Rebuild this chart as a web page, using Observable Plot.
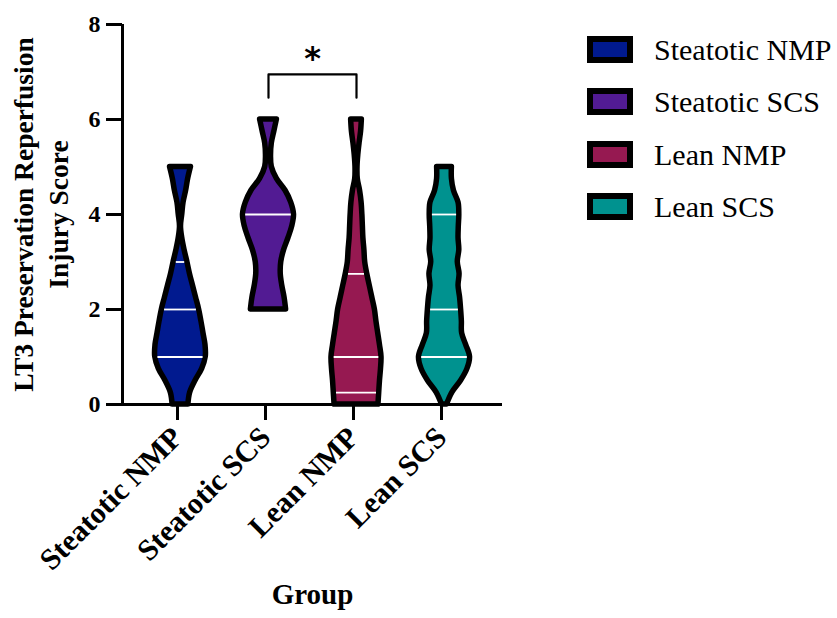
<!DOCTYPE html>
<html>
<head>
<meta charset="utf-8">
<script src="https://cdn.jsdelivr.net/npm/d3@7"></script>
<script src="https://cdn.jsdelivr.net/npm/@observablehq/plot@0.6"></script>
<style>
  body { margin: 0; background: #fff; }
  #wrap { position: relative; width: 837px; height: 618px; font-family: "Liberation Serif", "Times New Roman", serif; }
  #legend { position: absolute; left: 587px; top: 36px; }
  .row { display: flex; align-items: center; height: 27px; margin-bottom: 25.3px; }
  .sw { width: 46px; height: 27px; box-sizing: border-box; border: 6px solid #000; }
  .lab { margin-left: 21px; font-size: 30px; line-height: 27px; color: #000; white-space: nowrap; }
</style>
</head>
<body>
<div id="wrap"><div id="chart"></div><div id="legend"></div></div>
<script>
// ---- data ----
const groups = ["Steatotic NMP", "Steatotic SCS", "Lean NMP", "Lean SCS"];
const colors = ["#011a8f", "#521b93", "#961951", "#00928f"];
const yTicks = [0, 2, 4, 6, 8];

// violin outlines: score grid and relative density (half-width, max = 1)
const steatoticNmpY = [0, 0.25, 0.5, 0.75, 1, 1.25, 1.5, 1.75, 2, 2.25, 2.5, 2.75, 3, 3.25, 3.5, 3.75, 4, 4.25, 4.5, 4.75, 5];
const steatoticNmpD = [0.31, 0.38, 0.59, 0.85, 0.99, 0.98, 0.90, 0.82, 0.73, 0.61, 0.49, 0.37, 0.27, 0.16, 0.07, 0.02, 0.07, 0.12, 0.22, 0.30, 0.41];
const steatoticScsY = [2, 2.25, 2.5, 2.75, 3, 3.25, 3.5, 3.75, 4, 4.25, 4.5, 4.75, 5, 5.25, 5.5, 5.75, 6];
const steatoticScsD = [0.69, 0.63, 0.54, 0.48, 0.50, 0.61, 0.78, 0.93, 1.00, 0.89, 0.67, 0.33, 0.13, 0.10, 0.13, 0.23, 0.33];
const leanNmpY = [0, 0.25, 0.5, 0.75, 1, 1.25, 1.5, 1.75, 2, 2.25, 2.5, 2.75, 3, 3.25, 3.5, 3.75, 4, 4.25, 4.5, 4.75, 5, 5.25, 5.5, 5.75, 6];
const leanNmpD = [0.86, 0.89, 0.92, 0.96, 0.98, 0.92, 0.85, 0.78, 0.72, 0.62, 0.52, 0.42, 0.34, 0.31, 0.27, 0.25, 0.23, 0.20, 0.14, 0.05, 0.04, 0.07, 0.12, 0.18, 0.21];
const leanScsY = [0, 0.25, 0.5, 0.75, 1, 1.25, 1.5, 1.75, 2, 2.25, 2.5, 2.75, 3, 3.25, 3.5, 3.75, 4, 4.25, 4.5, 4.75, 5];
const leanScsD = [0.10, 0.31, 0.65, 0.90, 1.00, 0.85, 0.69, 0.68, 0.65, 0.61, 0.55, 0.59, 0.52, 0.58, 0.55, 0.56, 0.58, 0.55, 0.37, 0.29, 0.29];

// quartile / median lines
const steatoticNmpQ = [1, 2, 3];
const steatoticScsQ = [4];
const leanNmpQ = [0.25, 1, 2.75];
const leanScsQ = [1, 2, 4];

// significance bracket (Steatotic SCS vs Lean NMP)
const sigPair = [2, 3];
const sigLabel = "*";

// ---- build tables ----
const maxHalf = 0.29;        // x units for density 1
const strokeHalf = 2.7 / 88; // inner offset of the outline
const violins = [
  {y: steatoticNmpY, d: steatoticNmpD, q: steatoticNmpQ},
  {y: steatoticScsY, d: steatoticScsD, q: steatoticScsQ},
  {y: leanNmpY, d: leanNmpD, q: leanNmpQ},
  {y: leanScsY, d: leanScsD, q: leanScsQ}
];
const areaRows = [];
const qRows = [];
violins.forEach((v, i) => {
  const pos = i + 1;
  v.y.forEach((y, j) => areaRows.push({group: groups[i], y, x1: pos - v.d[j] * maxHalf, x2: pos + v.d[j] * maxHalf}));
  const interp = d3.scaleLinear().domain(v.y).range(v.d);
  v.q.forEach(q => {
    const h = interp(q) * maxHalf - strokeHalf;
    qRows.push({group: groups[i], y: q, x1: pos - h, x2: pos + h});
  });
});
const bracketTop = 6.95, bracketBottom = 6.46;
const bracket = [
  {x: sigPair[0], y: bracketBottom}, {x: sigPair[0], y: bracketTop},
  {x: sigPair[1], y: bracketTop}, {x: sigPair[1], y: bracketBottom}
];

const xMin = 0.341, xMax = 4.659;
const chart = Plot.plot({
  width: 837, height: 618,
  marginLeft: 122, marginRight: 335, marginTop: 24, marginBottom: 214,
  style: {fontFamily: "Liberation Serif, Times New Roman, serif", color: "#000", background: "#fff"},
  x: {domain: [xMin, xMax]},
  y: {domain: [0, 8]},
  color: {domain: groups, range: colors},
  marks: [
    Plot.axisY({ticks: yTicks, tickSize: 16, tickPadding: 6, strokeWidth: 3, fontSize: 24, fontWeight: "bold", label: null}),
    Plot.axisX({ticks: [1, 2, 3, 4], tickFormat: i => groups[i - 1], tickRotate: -45, tickSize: 16, tickPadding: 12, dx: -3, strokeWidth: 3, fontSize: 30, fontWeight: "bold", label: null}),
    Plot.ruleY([0], {stroke: "#000", strokeWidth: 3}),
    Plot.ruleX([xMin], {stroke: "#000", strokeWidth: 3}),
    Plot.areaX(areaRows, {y: "y", x1: "x1", x2: "x2", z: "group", fill: "group", stroke: "#000", strokeWidth: 5.5, strokeLinejoin: "round", curve: "catmull-rom"}),
    Plot.ruleY(qRows, {y: "y", x1: "x1", x2: "x2", stroke: "#fff", strokeWidth: 1.8}),
    Plot.line(bracket, {x: "x", y: "y", stroke: "#000", strokeWidth: 2.2}),
    Plot.text([sigLabel], {x: (sigPair[0] + sigPair[1]) / 2, y: 7.28, fontSize: 32, fontWeight: "bold", fontFamily: "DejaVu Sans", text: d => d}),
    Plot.text(["LT3 Preservation Reperfusion\nInjury Score"], {frameAnchor: "left", textAnchor: "middle", dx: -83.5, rotate: -90, fontSize: 27.5, fontWeight: "bold", lineHeight: 1.27, text: d => d}),
    Plot.text(["Group"], {frameAnchor: "bottom", dy: 199, fontSize: 29, fontWeight: "bold", text: d => d})
  ]
});
document.getElementById("chart").append(chart);

const legend = document.getElementById("legend");
groups.forEach((g, i) => {
  const row = document.createElement("div");
  row.className = "row";
  row.innerHTML = `<div class="sw" style="background:${colors[i]}"></div><div class="lab">${g}</div>`;
  legend.append(row);
});
</script>
</body>
</html>
